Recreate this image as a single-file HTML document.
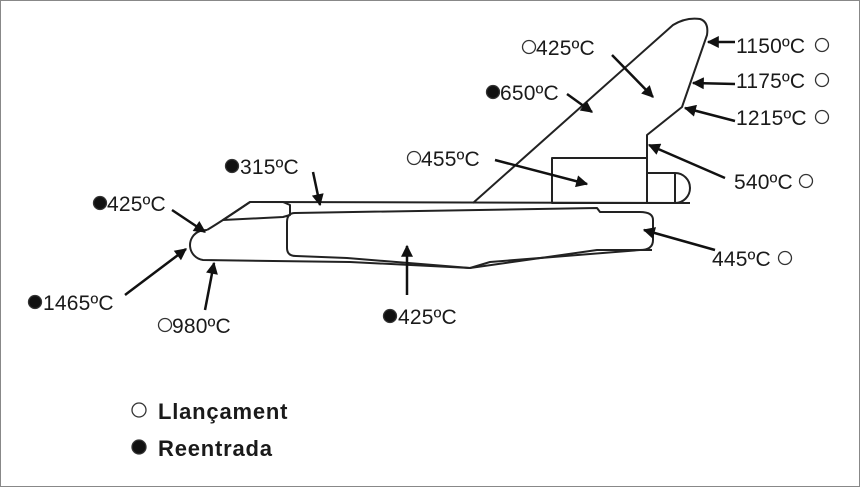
<!DOCTYPE html>
<html><head><meta charset="utf-8"><style>
html,body{margin:0;padding:0;background:#fff}
svg{display:block}
text{font-family:"Liberation Sans",Arial,sans-serif;font-size:21px;fill:#1a1a1a;letter-spacing:0.2px}
.b{font-weight:bold;font-size:22px;letter-spacing:0.8px}
</style></head><body>
<svg width="860" height="487" viewBox="0 0 860 487" xmlns="http://www.w3.org/2000/svg">
<defs><marker id="a" viewBox="0 0 10 10" refX="9" refY="5" markerWidth="14" markerHeight="12" orient="auto" markerUnits="userSpaceOnUse"><path d="M0,0 L10,5 L0,10 z" fill="#111"/></marker></defs>
<rect x="0.5" y="0.5" width="859" height="486" fill="#fff" stroke="#888"/>
<g fill="none" stroke="#222" stroke-width="2" stroke-linejoin="round">
<path d="M473,203 L673,25 Q686,17 700,19 Q709,22 707,35 L682,107 L647,135 L647,203"/>
<rect x="552" y="158" width="95" height="45"/>
<path d="M647,173 L675,173 A15,15 0 0 1 675,203 L647,203 M675,173 L675,203"/>
<path d="M250,202 L690,203"/>
<path d="M207,230 Q222,221 250,202"/>
<path d="M223,220 L250,202 L283,202 L290,205 L290,215 L283,217 Z"/>
<path d="M207,230 Q203,230 200,231 A15,15 0 0 0 203,260 L350,262 L470,268 L597,250 L652,250"/>
<path d="M295,213 Q287,213 287,222 L287,248 Q287,256 296,256 L347,258 L470,268 L490,262 L640,250 Q653,250 653,240 L653,220 Q653,212 640,212 L600,212 L597,208 L295,213 Z"/>
</g>
<g stroke="#111" stroke-width="2.5" marker-end="url(#a)">
<line x1="172" y1="210" x2="205" y2="232"/>
<line x1="125" y1="295" x2="186" y2="249"/>
<line x1="205" y1="310" x2="214" y2="263"/>
<line x1="313" y1="172" x2="320" y2="205"/>
<line x1="407" y1="295" x2="407" y2="246"/>
<line x1="495" y1="160" x2="587" y2="184"/>
<line x1="567" y1="94" x2="592" y2="112"/>
<line x1="612" y1="55" x2="653" y2="97"/>
<line x1="735" y1="42" x2="708" y2="42"/>
<line x1="735" y1="84" x2="693" y2="83"/>
<line x1="735" y1="121" x2="685" y2="108"/>
<line x1="725" y1="178" x2="649" y2="145"/>
<line x1="715" y1="250" x2="644" y2="230"/>
</g>
<g stroke="#333" stroke-width="1.3">
<circle cx="100" cy="203" r="6.5" fill="#111"/>
<circle cx="232" cy="166" r="6.5" fill="#111"/>
<circle cx="414" cy="158" r="6.5" fill="none"/>
<circle cx="493" cy="92" r="6.5" fill="#111"/>
<circle cx="529" cy="47" r="6.5" fill="none"/>
<circle cx="822" cy="45" r="6.5" fill="none"/>
<circle cx="822" cy="80" r="6.5" fill="none"/>
<circle cx="822" cy="117" r="6.5" fill="none"/>
<circle cx="806" cy="181" r="6.5" fill="none"/>
<circle cx="785" cy="258" r="6.5" fill="none"/>
<circle cx="35" cy="302" r="6.5" fill="#111"/>
<circle cx="165" cy="325" r="6.5" fill="none"/>
<circle cx="390" cy="316" r="6.5" fill="#111"/>
<circle cx="139" cy="410" r="7" fill="none"/>
<circle cx="139" cy="447" r="7" fill="#111"/>
</g>
<text x="107" y="211">425ºC</text>
<text x="240" y="174">315ºC</text>
<text x="421" y="166">455ºC</text>
<text x="500" y="100">650ºC</text>
<text x="536" y="55">425ºC</text>
<text x="736" y="53">1150ºC</text>
<text x="736" y="88">1175ºC</text>
<text x="736" y="125">1215ºC</text>
<text x="734" y="189">540ºC</text>
<text x="712" y="266">445ºC</text>
<text x="43" y="310">1465ºC</text>
<text x="172" y="333">980ºC</text>
<text x="398" y="324">425ºC</text>
<text class="b" x="158" y="419">Llançament</text>
<text class="b" x="158" y="456">Reentrada</text>
</svg>
</body></html>
